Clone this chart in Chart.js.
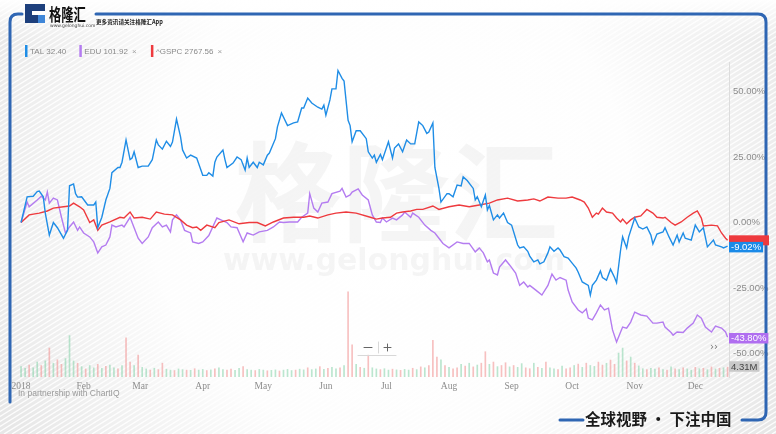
<!DOCTYPE html>
<html>
<head>
<meta charset="utf-8">
<script src="https://cdn.jsdelivr.net/npm/chart.js@4/dist/chart.umd.min.js"></script>
<style>
html,body{margin:0;padding:0;background:#ececec;}
#wrap{width:776px;height:434px;position:relative;}
</style>
</head>
<body>
<div id="wrap"><canvas id="c" width="776" height="434"></canvas></div>
<script>
// ---- data (day of year 2018, % change since start) ----
const talDays = [0,3,6,8,9,11,12,14,16,18,21,23,24,26,27,28,30,33,36,37,38,40,42,44,45,48,49,50,52,54,55,56,58,60,63,65,67,68,70,72,74,75,77,79,80,82,84,87,90,92,93,95,96,97,100,101,102,105,107,109,111,112,113,115,117,118,120,122,123,126,127,129,132,135,137,139,140,142,144,147,149,150,151,153,154,156,157,159,160,162,163,164,166,168,171,172,174,175,176,178,179,182,184,185,187,189,191,193,195,197,199,201,202,204,205,207,208,211,212,214,216,218,219,221,224,225,226,228,230,231,232,234,236,237,239,241,243,246,247,249,251,252,254,256,257,259,261,262,264,266,267,269,271,273,275,276,278,281,282,283,285,287,288,290,292,294,295,297,298,300,301,304,306,308,310,312,313,315,318,319,321,323,325,326,328,329,332,334,336,338,340,343,344,347,348,350];
const talPct = [0,9.8,10,11.8,12,9.8,3.6,-4.8,0,-2,-6,-3,14,14.7,11,9.7,9.8,6.7,6.7,7.8,-2,2,8.6,13,19,21,21,23,31.5,24,24.6,27,21,21.5,21.5,24,31.5,29.6,28,31,29,30.7,39.5,32.7,27.7,24.6,25.7,24.6,18,18,19,17.7,23,25,27.7,24,21,22.7,25,24,20,24.6,21,23,21,23,22,25.7,26.5,32,36.5,41.8,37,38,38.4,43.7,43.7,47.5,45.6,44,43.3,44.8,41,46.8,51,51,58,55,54,39,37,30.8,35,35,32,27,24.6,25.7,23,26,24,30.8,24.6,28.4,30,27,31.5,30,30,38.4,37,34,34.5,38,21,13,7.8,11,11,9.8,14.3,14,17.4,16,13,8.6,9.8,6,10.5,4.8,6.5,1,2.9,1.7,3.6,0,-1,-8.6,-9.7,-9.3,-11,-12.8,-15,-14.3,-15.8,-15,-11.6,-9.3,-11,-9.7,-10.5,-13,-13.6,-15.5,-17.4,-19,-22.7,-24,-27.7,-24,-22,-18.5,-21,-22,-17.8,-21,-23,-10.5,-5.5,-9.7,-5.5,1.7,-1.7,-2.5,-1.7,-4.8,-8.2,-4.4,-3.6,-2,-5.5,-8.6,-4.8,-7.4,-4,-6,-6.7,-1,-3.6,-2,-9.3,-6.7,-8.6,-9.3,-9.7,-9.02];

const eduDays = [0,3,4,8,10,12,13,14,16,18,20,22,24,26,28,29,31,34,36,38,40,42,44,45,47,50,51,54,56,58,60,63,65,68,70,72,74,75,77,79,81,84,85,88,90,93,97,99,102,104,107,110,112,115,118,122,125,128,130,133,137,139,142,143,145,147,149,152,154,158,159,161,163,164,167,169,172,174,176,178,179,181,184,186,189,190,193,194,197,200,203,205,207,209,212,216,219,222,225,227,229,231,232,234,236,237,240,242,245,247,249,251,252,255,258,261,263,265,267,270,271,273,276,278,280,281,283,285,287,289,291,293,295,297,298,300,302,304,307,310,313,315,318,319,322,323,325,328,330,333,335,337,339,342,344,347,349,350];
const eduPct = [0,7.8,6,8.6,10,8.6,11.6,7.4,9.3,8.6,2,-4,-1.7,0.2,-3,-1.7,-4,-5.5,-7.4,-11.6,-9.3,-8.6,-5.5,-1,-1.7,-1,-1.7,2,-2,-6,-8,-5.5,-2,0.2,-1.7,-1,-3.6,1,2.9,1,-3,-4,-7.4,-8,-7.4,-5,1.7,1,0,-1.7,-2,-7.4,-4,-4.8,-3.6,-3,-1.7,0.2,0,0.2,0.2,2,3.6,11,5.5,4,7.4,7.8,11,12,13,9.7,10.5,11.6,12.8,10.5,8.6,2.9,0.2,0,1.7,0.2,1.7,1,2.9,4,2,3.6,2,-1,-3,-4,-6,-8,-9.7,-7.4,-8,-8,-11.2,-9.7,-11.6,-15,-14.3,-19.3,-20,-17,-14.3,-16.2,-19.3,-24,-22.7,-24.6,-24,-25.8,-27.7,-24,-19.7,-22,-21,-22,-25.8,-30.3,-33.4,-34.5,-33,-36.5,-37.2,-34.5,-31.5,-33.4,-32.7,-41,-45.6,-41.8,-39.9,-40.3,-38,-34.2,-35.3,-35.7,-38.4,-38.4,-38,-39.9,-42,-43,-41.8,-42,-40.3,-38.4,-35.3,-36.5,-39.9,-41.8,-39.5,-40.3,-41.8,-43.8];

const spxDays = [0,4,9,13,16,21,24,26,29,31,34,36,38,40,44,49,51,54,56,60,64,67,71,75,79,82,85,87,89,92,96,98,103,108,113,117,121,125,130,135,140,143,147,152,156,161,166,173,176,179,183,186,189,193,196,199,204,207,212,217,222,227,232,236,241,246,251,254,257,261,266,270,273,277,279,281,283,285,286,288,290,293,295,297,298,300,302,304,307,310,313,315,318,319,322,324,327,330,333,335,337,338,342,345,347,349,350];
const spxPct = [0,2.9,3.6,4.4,5.5,6,6.3,7.4,6,4.8,0,1,-3,-1,0.2,2,1.7,4,1.7,2,1.3,4,3.2,2.9,1,-1,-2,-1.7,-3,-1,-2,0,1,-0.5,0,0,-1.3,0.2,1.7,2,2,2.5,1.7,2.9,3.6,4,3.6,2,1.3,1.7,2,3.6,4,4.4,5,5,6.3,5,6,6.7,6,6.7,7.4,8.6,9.3,8.2,8.6,9,8.2,9.7,9.3,9.3,9.7,8.6,7.8,5.5,2,3.6,3.2,5.5,4,3.6,1.7,0.2,1.3,-0.5,1,2,2.5,5,3.6,2,1.7,2,0,-1,0.2,2,3.6,4.4,1.7,-1.3,-1,-1.3,-4,-6,-6.8];

// volume (millions), one bar every second day, and whether the day closed up
const volValues = [4.5,3.8,5.2,4.0,6.5,5.0,7.0,12.6,6.0,7.5,5.5,8.0,18.0,7.0,6.0,4.5,3.5,5.0,4.0,5.5,3.8,4.6,5.2,4.0,3.6,5.0,17.0,6.5,5.0,9.5,4.2,3.5,3.0,3.8,3.2,6.0,3.4,3.0,2.8,3.5,3.2,3.0,2.9,3.6,3.0,3.3,2.8,3.1,3.5,4.0,3.2,3.0,3.4,2.9,3.8,4.5,3.2,3.0,2.8,3.3,3.0,2.7,2.9,3.1,2.6,3.0,3.3,2.8,3.0,3.4,3.1,4.0,3.2,3.5,4.5,3.3,3.8,4.2,3.6,4.0,5.0,37.0,14.0,5.5,4.2,3.8,9.5,4.0,3.5,3.2,3.6,3.0,3.4,3.1,2.9,3.3,3.0,3.8,3.2,4.4,4.0,5.0,16.0,8.7,7.5,5.0,4.2,3.6,4.0,5.5,4.8,6.0,4.4,5.2,6.0,11.0,5.5,6.5,4.5,5.0,6.2,4.4,5.0,4.2,5.8,4.0,3.6,6.0,4.2,3.8,6.5,4.0,3.5,3.2,4.8,3.6,4.0,5.0,5.6,4.2,6.0,5.0,4.6,6.5,5.2,6.0,7.4,5.5,10.4,12.6,7.0,8.7,6.0,4.8,3.6,3.2,3.8,3.4,4.0,3.2,3.0,4.4,3.6,3.2,4.0,3.5,3.0,4.2,3.6,3.8,3.2,4.4,3.5,3.8,4.0,4.31];
const volUp = [1,1,0,1,1,0,1,0,1,0,0,1,1,1,0,1,0,1,1,0,1,0,1,1,0,1,0,0,1,0,1,1,0,1,0,0,1,1,0,1,1,0,1,0,1,1,0,1,0,1,1,0,0,1,1,0,1,1,0,1,1,0,1,1,0,1,1,1,0,1,1,0,1,1,0,1,0,1,1,0,1,0,0,1,0,1,0,1,1,0,1,1,0,1,0,1,1,0,1,0,1,0,0,0,1,0,1,0,0,1,0,1,0,1,0,0,1,0,1,0,0,1,0,1,1,0,0,1,0,1,0,1,1,0,1,0,0,1,0,1,0,1,1,0,0,1,0,0,1,1,0,1,0,1,1,0,1,1,0,1,0,1,0,1,0,1,1,0,1,0,1,0,1,0,1,0];

const monthDays = [0,31,59,90,120,151,181,212,243,273,304,334];
const monthLabels = ['2018','Feb','Mar','Apr','May','Jun','Jul','Aug','Sep','Oct','Nov','Dec'];
const yTicks = [50,25,0,-25,-50];

const legendItems = [
  {name:'TAL', price:'32.40', closeMark:false},
  {name:'EDU', price:'101.92', closeMark:true},
  {name:'^GSPC', price:'2767.56', closeMark:true}
];
const lastVolumeLabel = '4.31M';

const C_TAL = '#1f8de6', C_EDU = '#b47cf0', C_SPX = '#ee3a3e';
const pts = (d, v) => d.map((x, i) => ({x: x, y: v[i]}));

const decor = {
  id: 'decor',
  beforeDraw(chart) {
    const ctx = chart.ctx, W = chart.width, H = chart.height;
    ctx.save();
    ctx.fillStyle = '#e6e6e6';
    ctx.fillRect(0, 0, W, H);
    // diagonal stripes
    ctx.strokeStyle = 'rgba(255,255,255,0.9)';
    ctx.lineWidth = 1.4;
    for (let k = -H * 2; k < W + H; k += 8) {
      ctx.beginPath();
      ctx.moveTo(k, H);
      ctx.lineTo(k + H * 1.6, 0);
      ctx.stroke();
    }
    // bright center
    const g = ctx.createRadialGradient(390, 200, 40, 390, 200, 440);
    g.addColorStop(0, 'rgba(255,255,255,1)');
    g.addColorStop(0.5, 'rgba(255,255,255,0.93)');
    g.addColorStop(1, 'rgba(255,255,255,0.05)');
    ctx.fillStyle = g;
    ctx.fillRect(0, 0, W, H);
    // top white header band
    const hg = ctx.createLinearGradient(0, 0, 0, 40);
    hg.addColorStop(0, 'rgba(255,255,255,0.95)');
    hg.addColorStop(1, 'rgba(255,255,255,0)');
    ctx.fillStyle = hg;
    ctx.fillRect(0, 0, W, 40);
    // watermark
    ctx.fillStyle = 'rgba(190,190,190,0.16)';
    ctx.textAlign = 'center';
    ctx.textBaseline = 'middle';
    ctx.font = 'bold 108px "Noto Sans CJK SC"';
    ctx.fillText('格隆汇', 396, 192);
    ctx.font = 'bold 30px "DejaVu Sans"';
    ctx.fillText('www.gelonghui.com', 394, 262);
    ctx.restore();
  },
  afterDraw(chart) {
    const ctx = chart.ctx, a = chart.chartArea, ys = chart.scales.y;
    ctx.save();
    // frame
    ctx.strokeStyle = '#2f66b3';
    ctx.lineWidth = 3;
    ctx.lineCap = 'round';
    ctx.beginPath();
    ctx.moveTo(22, 14); ctx.lineTo(18, 14);
    ctx.quadraticCurveTo(10, 14, 10, 22);
    ctx.lineTo(10, 402);
    ctx.stroke();
    ctx.beginPath();
    ctx.moveTo(96, 14); ctx.lineTo(758, 14);
    ctx.quadraticCurveTo(766, 14, 766, 22);
    ctx.lineTo(766, 412);
    ctx.quadraticCurveTo(766, 420, 758, 420);
    ctx.lineTo(742, 420);
    ctx.stroke();
    ctx.beginPath();
    ctx.moveTo(560, 420); ctx.lineTo(583, 420);
    ctx.stroke();
    // logo
    ctx.fillStyle = '#1d3f7c';
    ctx.fillRect(25, 4, 20, 19);
    ctx.fillStyle = '#ffffff';
    ctx.fillRect(32, 11, 13, 4);
    ctx.fillStyle = '#3f86d8';
    ctx.fillRect(38, 15, 7, 8);
    ctx.fillStyle = '#111';
    ctx.textBaseline = 'alphabetic';
    ctx.textAlign = 'left';
    ctx.save();
    ctx.translate(49, 21);
    ctx.scale(0.82, 1.15);
    ctx.font = 'bold 15px "Noto Sans CJK SC"';
    ctx.fillText('格隆汇', 0, 0);
    ctx.restore();
    ctx.font = '4.5px "DejaVu Sans"';
    ctx.fillStyle = '#444';
    ctx.fillText('www.gelonghui.com', 50, 27);
    ctx.font = 'bold 5.6px "Noto Sans CJK SC"';
    ctx.fillStyle = '#222';
    ctx.fillText('更多资讯请关注格隆汇App', 96, 24);
    // legend
    const colors = [C_TAL, C_EDU, C_SPX];
    let lx = 25;
    ctx.font = '8px "Liberation Sans Narrow", "Liberation Sans", sans-serif';
    ctx.textBaseline = 'middle';
    legendItems.forEach((it, i) => {
      ctx.fillStyle = colors[i];
      ctx.fillRect(lx, 45, 2.5, 12);
      ctx.fillStyle = '#8a8a8a';
      const txt = it.name + ' ' + it.price;
      ctx.fillText(txt, lx + 5, 51.5);
      let w = ctx.measureText(txt).width + lx + 5;
      if (it.closeMark) {
        ctx.fillStyle = '#a0a0a0';
        ctx.fillText('×', w + 4, 51.5);
        w += 10;
      }
      lx = w + 13;
    });
    // right value tags
    const tag = (y, txt, bg, fg, h) => {
      ctx.font = '9.5px "Liberation Sans", sans-serif';
      const w = ctx.measureText(txt).width + 4;
      ctx.fillStyle = bg;
      ctx.fillRect(a.right, y - h / 2, w, h);
      ctx.fillStyle = fg;
      ctx.textAlign = 'left';
      ctx.textBaseline = 'middle';
      ctx.fillText(txt, a.right + 2, y + 0.5);
    };
    const lastSpx = spxPct[spxPct.length - 1];
    ctx.fillStyle = C_SPX;
    ctx.fillRect(a.right, ys.getPixelForValue(lastSpx) - 5, 40, 10);
    const lastTal = talPct[talPct.length - 1], lastEdu = eduPct[eduPct.length - 1];
    tag(ys.getPixelForValue(lastTal) + 1, lastTal.toFixed(2) + '%', '#1a8ae8', '#fff', 10.5);
    tag(ys.getPixelForValue(lastEdu) + 1, lastEdu.toFixed(2) + '%', '#b06ef0', '#fff', 10.5);
    tag(366.5, lastVolumeLabel, '#c9c9c9', '#444', 10.5);
    // zoom controls
    ctx.strokeStyle = '#666';
    ctx.lineWidth = 1;
    ctx.beginPath();
    ctx.moveTo(364, 347.5); ctx.lineTo(372, 347.5);
    ctx.moveTo(384, 347.5); ctx.lineTo(391, 347.5);
    ctx.moveTo(387.5, 344); ctx.lineTo(387.5, 351);
    ctx.stroke();
    ctx.strokeStyle = '#d8d8d8';
    ctx.beginPath();
    ctx.moveTo(378.5, 342); ctx.lineTo(378.5, 353);
    ctx.moveTo(358, 355.5); ctx.lineTo(396, 355.5);
    ctx.stroke();
    ctx.fillStyle = '#777';
    ctx.font = '10px "DejaVu Sans"';
    ctx.textAlign = 'center';
    ctx.fillText('››', 714, 347);
    // partnership text
    ctx.textAlign = 'left';
    ctx.fillStyle = '#9a9a9a';
    ctx.font = '8.5px "Liberation Sans", sans-serif';
    ctx.fillText('In partnership with ChartIQ', 18, 394);
    // bottom slogan
    ctx.fillStyle = '#1a1a1a';
    ctx.font = 'bold 15.5px "Noto Sans CJK SC"';
    ctx.textAlign = 'left';
    ctx.textBaseline = 'middle';
    ctx.fillText('全球视野 · 下注中国', 585, 419);
    ctx.restore();
  }
};

new Chart(document.getElementById('c'), {
  data: {
    datasets: [
      {type: 'line', label: 'TAL', data: pts(talDays, talPct), borderColor: C_TAL, borderWidth: 1.4, pointRadius: 0, tension: 0, order: 0, yAxisID: 'y'},
      {type: 'line', label: '^GSPC', data: pts(spxDays, spxPct), borderColor: C_SPX, borderWidth: 1.4, pointRadius: 0, tension: 0, order: 1, yAxisID: 'y'},
      {type: 'line', label: 'EDU', data: pts(eduDays, eduPct), borderColor: C_EDU, borderWidth: 1.4, pointRadius: 0, tension: 0, order: 2, yAxisID: 'y'},
      {type: 'bar', label: 'Volume', data: volValues.map((v, i) => ({x: i * 2, y: v})),
        backgroundColor: volUp.map(u => u ? 'rgba(120,205,160,0.5)' : 'rgba(240,140,140,0.55)'),
        barThickness: 1, order: 5, yAxisID: 'yv'}
    ]
  },
  options: {
    responsive: false,
    animation: false,
    events: [],
    layout: {padding: {left: 13, top: 62, right: 0, bottom: 0}},
    plugins: {legend: {display: false}, tooltip: {enabled: false}},
    scales: {
      x: {
        type: 'linear', min: -4, max: 350.7, offset: false,
        grid: {display: false, drawTicks: false, offset: false},
        border: {display: false},
        afterBuildTicks: s => { s.ticks = monthDays.map(v => ({value: v})); },
        afterFit: s => { s.height = 57; s.paddingLeft = 0; s.paddingRight = 0; },
        ticks: {
          padding: 4, autoSkip: false, maxRotation: 0, color: '#8c8c8c',
          font: {family: '"Liberation Serif", serif', size: 9.5},
          callback: v => { const i = monthDays.indexOf(v); return i >= 0 ? monthLabels[i] : ''; }
        }
      },
      y: {
        position: 'right', min: -58.97, max: 61.26,
        grid: {display: false, drawTicks: false},
        border: {display: true, color: '#dcdcdc'},
        afterBuildTicks: s => { s.ticks = yTicks.map(v => ({value: v})); },
        afterFit: s => { s.width = 47; },
        ticks: {
          padding: 4, color: '#8c8c8c',
          font: {family: '"Liberation Sans", sans-serif', size: 9.5},
          callback: v => v.toFixed(2) + '%'
        }
      },
      yv: {display: false, min: 0, max: 137}
    }
  },
  plugins: [decor]
});
</script>
</body>
</html>
